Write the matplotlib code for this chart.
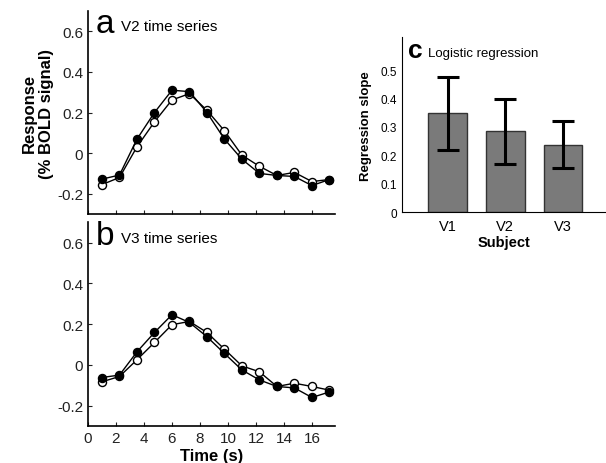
import matplotlib
matplotlib.use("Agg")
import matplotlib.pyplot as plt

plt.rcParams['font.family'] = ['Liberation Sans', 'DejaVu Sans']

# sample times (s)
t = [1.0, 2.25, 3.5, 4.75, 6.0, 7.25, 8.5, 9.75, 11.0, 12.25, 13.5, 14.75, 16.0, 17.25]

# V2 time series
v2_filled = [-0.128, -0.108, 0.069, 0.200, 0.310, 0.303, 0.200, 0.069, -0.030, -0.100, -0.110, -0.115, -0.160, -0.130]
v2_open = [-0.155, -0.120, 0.031, 0.154, 0.262, 0.293, 0.211, 0.110, -0.010, -0.065, -0.110, -0.095, -0.140, -0.130]

# V3 time series
v3_filled = [-0.062, -0.050, 0.064, 0.159, 0.246, 0.208, 0.138, 0.056, -0.025, -0.074, -0.106, -0.113, -0.160, -0.133]
v3_open = [-0.083, -0.057, 0.025, 0.110, 0.197, 0.213, 0.159, 0.077, -0.005, -0.034, -0.106, -0.090, -0.106, -0.124]

# logistic regression
areas = ['V1', 'V2', 'V3']
slopes = [0.348, 0.285, 0.238]
slope_err = [0.128, 0.114, 0.083]

fig = plt.figure(figsize=(6.06, 4.64), dpi=100)

ax_a = fig.add_axes([0.1452, 0.5366, 0.4076, 0.4374])
ax_b = fig.add_axes([0.1452, 0.0797, 0.4076, 0.4393])
ax_c = fig.add_axes([0.663, 0.540, 0.337, 0.3775])


def time_panel(ax, filled, opn, letter, title, show_labels):
    ax.plot(t, opn, '-o', color='black', lw=1.0, ms=5.8, mfc='white', mec='black', mew=1.0, zorder=2)
    ax.plot(t, filled, '-o', color='black', lw=1.0, ms=5.8, mfc='black', mec='black', zorder=3)
    ax.set_xlim(0, 17.65)
    ax.set_ylim(-0.3, 0.7)
    ax.set_xticks(range(0, 17, 2))
    ax.set_yticks([-0.2, 0, 0.2, 0.4, 0.6])
    ax.set_yticklabels(['-0.2', '0', '0.2', '0.4', '0.6'])
    if not show_labels:
        ax.set_xticklabels([])
    for s in ['top', 'right']:
        ax.spines[s].set_visible(False)
    for s in ['left', 'bottom']:
        ax.spines[s].set_linewidth(1.2)
    ax.tick_params(direction='in', length=3, labelsize=11, colors='#222222')
    ax.text(0.03, 0.895, letter, transform=ax.transAxes, fontsize=24, va='baseline')
    ax.text(0.135, 0.905, title, transform=ax.transAxes, fontsize=11, va='baseline')


time_panel(ax_a, v2_filled, v2_open, 'a', 'V2 time series', False)
time_panel(ax_b, v3_filled, v3_open, 'b', 'V3 time series', True)

ax_a.set_ylabel('Response\n(% BOLD signal)', fontsize=12, fontweight='bold', labelpad=2)
ax_b.set_xlabel('Time (s)', fontsize=12, fontweight='bold', labelpad=2)

# panel c
x = [1, 2, 3]
ax_c.bar(x, slopes, width=0.667, color='#7a7a7a', edgecolor='#333333', lw=1.0)
ax_c.errorbar(x, slopes, yerr=slope_err, fmt='none', ecolor='black', elinewidth=2.2, capsize=8, capthick=2.2)
ax_c.set_xlim(0.207, 3.744)
ax_c.set_ylim(0, 0.615)
ax_c.set_xticks(x)
ax_c.set_xticklabels(areas)
ax_c.set_yticks([0, 0.1, 0.2, 0.3, 0.4, 0.5])
ax_c.set_yticklabels(['0', '0.1', '0.2', '0.3', '0.4', '0.5'])
for s in ['top', 'right']:
    ax_c.spines[s].set_visible(False)
ax_c.tick_params(axis='y', direction='in', length=0, labelsize=8.5)
ax_c.tick_params(axis='x', direction='in', length=0, labelsize=10.5, pad=5)
ax_c.set_ylabel('Regression slope', fontsize=9.5, fontweight='bold', labelpad=6)
ax_c.set_xlabel('Subject', fontsize=10.5, fontweight='bold', labelpad=1)
ax_c.text(0.03, 0.89, 'c', transform=ax_c.transAxes, fontsize=19, fontweight='bold', va='baseline')
ax_c.text(0.13, 0.895, 'Logistic regression', transform=ax_c.transAxes, fontsize=9.5, va='baseline')

fig.savefig('out.png', dpi=100)
